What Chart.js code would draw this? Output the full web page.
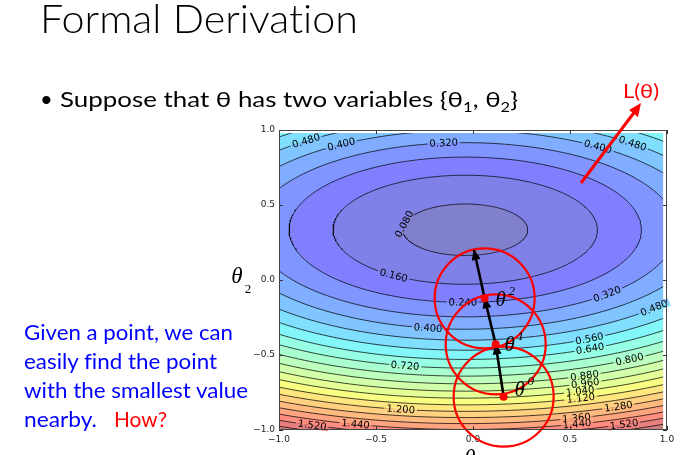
<!DOCTYPE html>
<html>
<head>
<meta charset="utf-8">
<script src="https://cdn.jsdelivr.net/npm/chart.js@4.4.1/dist/chart.umd.min.js"></script>
<style>
    html, body { margin: 0; padding: 0; background: #fff; }
    #slide { position: relative; width: 695px; height: 455px; overflow: hidden; }
    #chart { position: absolute; left: 0; top: 0; }
    #notes { position: absolute; left: 0; top: 0; pointer-events: none; }
    .cal { font-family: Lato, 'Open Sans', sans-serif; font-variant-ligatures: none; }
</style>
</head>
<body>
<div id="slide">
    <canvas id="chart" width="695" height="455"></canvas>
    <svg id="notes" width="695" height="455">
        <text class="cal" x="40" y="33" font-size="39" font-weight="300" fill="#000" textLength="318" lengthAdjust="spacingAndGlyphs">Formal Derivation</text>
        <text class="cal" x="40" y="107" font-size="22" fill="#000">•</text>
        <text class="cal" x="60" y="107" font-size="22" fill="#000" textLength="458" lengthAdjust="spacingAndGlyphs">Suppose that θ has two variables {θ<tspan font-size="14" dy="5">1</tspan><tspan dy="-5">, θ</tspan><tspan font-size="14" dy="5">2</tspan><tspan dy="-5">}</tspan></text>
        <text class="cal" x="623" y="98" font-size="19" fill="#ff0000" textLength="36" lengthAdjust="spacingAndGlyphs">L(θ)</text>
        <line x1="581" y1="183" x2="636" y2="110" stroke="#ff0000" stroke-width="3"/>
        <polygon points="641,103 629,110 638,117" fill="#ff0000"/>
        <text class="cal" x="24" y="340" font-size="22" fill="#0000ff" textLength="209" lengthAdjust="spacingAndGlyphs">Given a point, we can</text>
        <text class="cal" x="24" y="369" font-size="22" fill="#0000ff" textLength="193" lengthAdjust="spacingAndGlyphs">easily find the point</text>
        <text class="cal" x="24" y="398" font-size="22" fill="#0000ff" textLength="224" lengthAdjust="spacingAndGlyphs">with the smallest value</text>
        <text class="cal" x="24" y="427" font-size="22" fill="#0000ff" textLength="73" lengthAdjust="spacingAndGlyphs">nearby.</text>
        <text class="cal" x="114" y="427" font-size="22" fill="#ff0000" textLength="53" lengthAdjust="spacingAndGlyphs">How?</text>
    </svg>
</div>
<script>
// contour levels of L(theta)
const levels = [0.08, 0.16, 0.24, 0.32, 0.40, 0.48, 0.56, 0.64, 0.72, 0.80,
                0.88, 0.96, 1.04, 1.12, 1.20, 1.28, 1.36, 1.44, 1.52, 1.60];
const levelFloor = 0.0;
const levelTop = 1.68;

// bowl shape fitted to the drawn contours
const bowlMin = 0.057;
const bowlCenter = [-0.04, 0.335];
const bowlCurv = [0.222, 0.78];
const gridEdge = 0.98;

// gradient descent steps theta0 .. theta2 and the last arrow tip
const stepX = [0.158, 0.117, 0.060, 0.005];
const stepY = [-0.778, -0.429, -0.122, 0.200];

const tickValues = [-1, -0.5, 0, 0.5, 1];

// inline contour labels: level, rough x, rough y
const labelSpots = [
    [0.48, -0.868, 0.933], [0.40, -0.687, 0.911], [0.32, -0.151, 0.915],
    [0.40, 0.644, 0.889], [0.48, 0.825, 0.911], [0.08, -0.357, 0.373],
    [0.16, -0.412, 0.027], [0.24, -0.052, -0.151], [0.32, 0.688, -0.093],
    [0.48, 0.937, -0.189], [0.40, -0.232, -0.322], [0.56, 0.598, -0.389],
    [0.64, 0.598, -0.451], [0.72, -0.352, -0.578], [0.80, 0.799, -0.522],
    [0.88, 0.572, -0.633], [0.96, 0.572, -0.678], [1.04, 0.550, -0.738],
    [1.12, 0.550, -0.778], [1.20, -0.374, -0.867], [1.28, 0.747, -0.840],
    [1.36, 0.536, -0.927], [1.44, 0.536, -0.960], [1.52, 0.777, -0.960],
    [1.52, -0.828, -0.967], [1.44, -0.605, -0.960],
];

// glyph offsets (px) of the theta labels from their points
const thetaOffsets = [[16, -8], [14, 0], [16, 1]];

const bandEdges = [levelFloor, ...levels, levelTop];

function jet(t) {
    const seg = (pts) => {
        for (let i = 1; i < pts.length; i++) {
            if (t <= pts[i][0]) {
                const [x0, y0] = pts[i - 1];
                const [x1, y1] = pts[i];
                return y0 + (y1 - y0) * (t - x0) / (x1 - x0);
            }
        }
        return pts[pts.length - 1][1];
    };
    return [
        seg([[0, 0], [0.35, 0], [0.66, 1], [0.89, 1], [1, 0.5]]),
        seg([[0, 0], [0.125, 0], [0.375, 1], [0.64, 1], [0.91, 0], [1, 0]]),
        seg([[0, 0.5], [0.11, 1], [0.34, 1], [0.65, 0], [1, 0]]),
    ];
}

// band colour, jet at half alpha on white
function bandColor(j) {
    const mid = (bandEdges[j] + bandEdges[j + 1]) / 2;
    const c = jet((mid - levelFloor) / (levelTop - levelFloor));
    const ch = c.map(v => Math.round(255 * (0.5 + 0.5 * v)));
    return `rgb(${ch[0]},${ch[1]},${ch[2]})`;
}

function semiAxes(level) {
    return [Math.sqrt((level - bowlMin) / bowlCurv[0]), Math.sqrt((level - bowlMin) / bowlCurv[1])];
}

function contourPoints(level) {
    const [a, b] = semiAxes(level);
    const pts = [];
    for (let i = 0; i <= 360; i++) {
        const t = i / 360 * 2 * Math.PI;
        pts.push({ x: bowlCenter[0] + a * Math.cos(t), y: bowlCenter[1] + b * Math.sin(t) });
    }
    return pts;
}

const stepPoints = stepX.map((x, i) => ({ x, y: stepY[i] }));

const datasets = [];
for (let k = levels.length - 1; k >= 0; k--) {
    datasets.push({
        data: contourPoints(levels[k]),
        fill: 'shape',
        backgroundColor: bandColor(k),
        borderColor: 'rgba(0,0,0,0.8)',
        borderWidth: 0.9,
        pointRadius: 0,
    });
}
const lastContour = datasets.length - 1;

datasets.push({
    data: stepPoints.slice(0, 3),
    showLine: false,
    pointRadius: 50,
    pointBorderWidth: 2.2,
    pointBorderColor: '#ff0000',
    pointBackgroundColor: 'rgba(0,0,0,0)',
    clip: false,
});
const arrowIndex = datasets.length;
datasets.push({
    data: stepPoints,
    borderColor: '#000',
    borderWidth: 2.6,
    pointRadius: 0,
    fill: false,
});
datasets.push({
    data: stepPoints.slice(0, 3),
    showLine: false,
    pointRadius: 4,
    pointBorderWidth: 0,
    pointBackgroundColor: '#ff0000',
});
datasets.forEach((d, i) => { d.order = -i; });

const contourPlugin = {
    id: 'contour',
    beforeDatasetsDraw(chart) {
        const { ctx, chartArea: a } = chart;
        ctx.save();
        ctx.fillStyle = bandColor(bandEdges.length - 2);
        ctx.fillRect(a.left, a.top, a.right - a.left, a.bottom - a.top);
        ctx.restore();
    },
    afterDatasetDraw(chart, args) {
        const { ctx, chartArea: a } = chart;
        const xs = chart.scales.x;
        const ys = chart.scales.y;
        if (args.index === lastContour) {
            // grid stops at 0.98 on the top and right
            const ex = xs.getPixelForValue(gridEdge);
            const ey = ys.getPixelForValue(gridEdge);
            ctx.save();
            ctx.fillStyle = '#fff';
            ctx.fillRect(ex, a.top, a.right - ex + 1, a.bottom - a.top);
            ctx.fillRect(a.left, a.top, a.right - a.left + 1, ey - a.top);
            ctx.restore();

            const sx = xs.getPixelForValue(1) - xs.getPixelForValue(0);
            const sy = ys.getPixelForValue(0) - ys.getPixelForValue(1);
            const cpx = xs.getPixelForValue(bowlCenter[0]);
            const cpy = ys.getPixelForValue(bowlCenter[1]);
            ctx.save();
            ctx.font = '10px "DejaVu Sans"';
            labelSpots.forEach(([lv, gx, gy]) => {
                const k = levels.findIndex(v => Math.abs(v - lv) < 1e-6);
                const [ea, eb] = semiAxes(lv);
                const t = Math.atan2((gy - bowlCenter[1]) / eb, (gx - bowlCenter[0]) / ea);
                const px = xs.getPixelForValue(bowlCenter[0] + ea * Math.cos(t));
                const py = ys.getPixelForValue(bowlCenter[1] + eb * Math.sin(t));
                let ang = Math.atan2(-eb * Math.cos(t) * sy, -ea * Math.sin(t) * sx);
                if (ang > Math.PI / 2) ang -= Math.PI;
                if (ang < -Math.PI / 2) ang += Math.PI;
                // which side of the label faces the bowl centre
                const dx = cpx - px, dy = cpy - py;
                const inSide = -Math.sin(ang) * dx + Math.cos(ang) * dy > 0 ? 1 : -1;
                const txt = lv.toFixed(3);
                const w = ctx.measureText(txt).width;
                ctx.save();
                ctx.translate(px, py);
                ctx.rotate(ang);
                ctx.fillStyle = bandColor(k);
                ctx.fillRect(-w / 2 - 2, inSide > 0 ? 0 : -4, w + 4, 4);
                ctx.fillStyle = bandColor(k + 1);
                ctx.fillRect(-w / 2 - 2, inSide > 0 ? -4 : 0, w + 4, 4);
                ctx.fillStyle = '#000';
                ctx.textAlign = 'center';
                ctx.textBaseline = 'middle';
                ctx.fillText(txt, 0, 0.5);
                ctx.restore();
            });
            ctx.restore();
        }
        if (args.index === arrowIndex) {
            ctx.save();
            ctx.fillStyle = '#000';
            for (let i = 1; i < stepPoints.length; i++) {
                const x0 = xs.getPixelForValue(stepX[i - 1]), y0 = ys.getPixelForValue(stepY[i - 1]);
                const x1 = xs.getPixelForValue(stepX[i]), y1 = ys.getPixelForValue(stepY[i]);
                const ang = Math.atan2(y1 - y0, x1 - x0);
                ctx.save();
                ctx.translate(x1, y1);
                ctx.rotate(ang);
                ctx.beginPath();
                ctx.moveTo(1, 0);
                ctx.lineTo(-10, -4.5);
                ctx.lineTo(-10, 4.5);
                ctx.closePath();
                ctx.fill();
                ctx.restore();
            }
            ctx.restore();
        }
    },
    afterDatasetsDraw(chart) {
        const { ctx } = chart;
        const xs = chart.scales.x;
        const ys = chart.scales.y;
        ctx.save();
        ctx.fillStyle = '#000';
        ctx.textAlign = 'center';
        for (let i = 0; i < 3; i++) {
            const cx = xs.getPixelForValue(stepX[i]) + thetaOffsets[i][0];
            const cy = ys.getPixelForValue(stepY[i]) + thetaOffsets[i][1];
            ctx.font = 'italic 21px "Liberation Serif"';
            ctx.fillText('θ', cx, cy + 7);
            ctx.font = 'italic 13px "Liberation Serif"';
            ctx.fillText(String(i), cx + 11, cy - 4);
        }
        ctx.restore();
    },
    afterDraw(chart) {
        const { ctx, chartArea: a } = chart;
        const xs = chart.scales.x;
        const ys = chart.scales.y;
        ctx.save();
        ctx.strokeStyle = '#333';
        ctx.lineWidth = 1;
        ctx.beginPath();
        tickValues.forEach(v => {
            const px = Math.round(xs.getPixelForValue(v)) + 0.5;
            ctx.moveTo(px, a.bottom); ctx.lineTo(px, a.bottom - 4);
            ctx.moveTo(px, a.top); ctx.lineTo(px, a.top + 4);
            const py = Math.round(ys.getPixelForValue(v)) + 0.5;
            ctx.moveTo(a.left, py); ctx.lineTo(a.left + 4, py);
            ctx.moveTo(a.right, py); ctx.lineTo(a.right - 4, py);
        });
        ctx.stroke();
        ctx.strokeStyle = '#444';
        ctx.strokeRect(Math.round(a.left) + 0.5, Math.round(a.top) + 0.5,
            Math.round(a.right - a.left) - 1, Math.round(a.bottom - a.top) - 1);

        // axis names
        ctx.fillStyle = '#000';
        ctx.textAlign = 'center';
        ctx.font = 'italic 23px "Liberation Serif"';
        ctx.fillText('θ', a.left - 42, 283);
        ctx.fillText('θ', (a.left + a.right) / 2 - 3, 465);
        ctx.font = '13px "Liberation Serif"';
        ctx.fillText('2', a.left - 31, 293);
        ctx.fillText('1', (a.left + a.right) / 2 + 8, 472);
        ctx.restore();
    },
};

const tickText = v => (v < 0 ? '\u2212' : '') + Math.abs(v).toFixed(1);

new Chart(document.getElementById('chart'), {
    type: 'line',
    data: { datasets },
    options: {
        responsive: false,
        animation: false,
        devicePixelRatio: 1,
        layout: { autoPadding: false, padding: { left: 229, top: 130, right: 28, bottom: 0 } },
        plugins: { legend: { display: false }, tooltip: { enabled: false } },
        scales: {
            x: {
                type: 'linear', min: -1, max: 1,
                grid: { display: false, drawTicks: false },
                border: { display: false },
                afterBuildTicks: s => { s.ticks = tickValues.map(value => ({ value })); },
                afterFit: s => { s.height = 25; },
                ticks: { callback: tickText, maxRotation: 0, padding: 4, color: '#222', font: { family: 'DejaVu Sans', size: 9 } },
            },
            y: {
                type: 'linear', min: -1, max: 1,
                grid: { display: false, drawTicks: false },
                border: { display: false },
                afterBuildTicks: s => { s.ticks = tickValues.map(value => ({ value })); },
                afterFit: s => { s.width = 50; },
                ticks: { callback: tickText, padding: 4, color: '#222', font: { family: 'DejaVu Sans', size: 9 } },
            },
        },
    },
    plugins: [contourPlugin],
});
</script>
</body>
</html>
